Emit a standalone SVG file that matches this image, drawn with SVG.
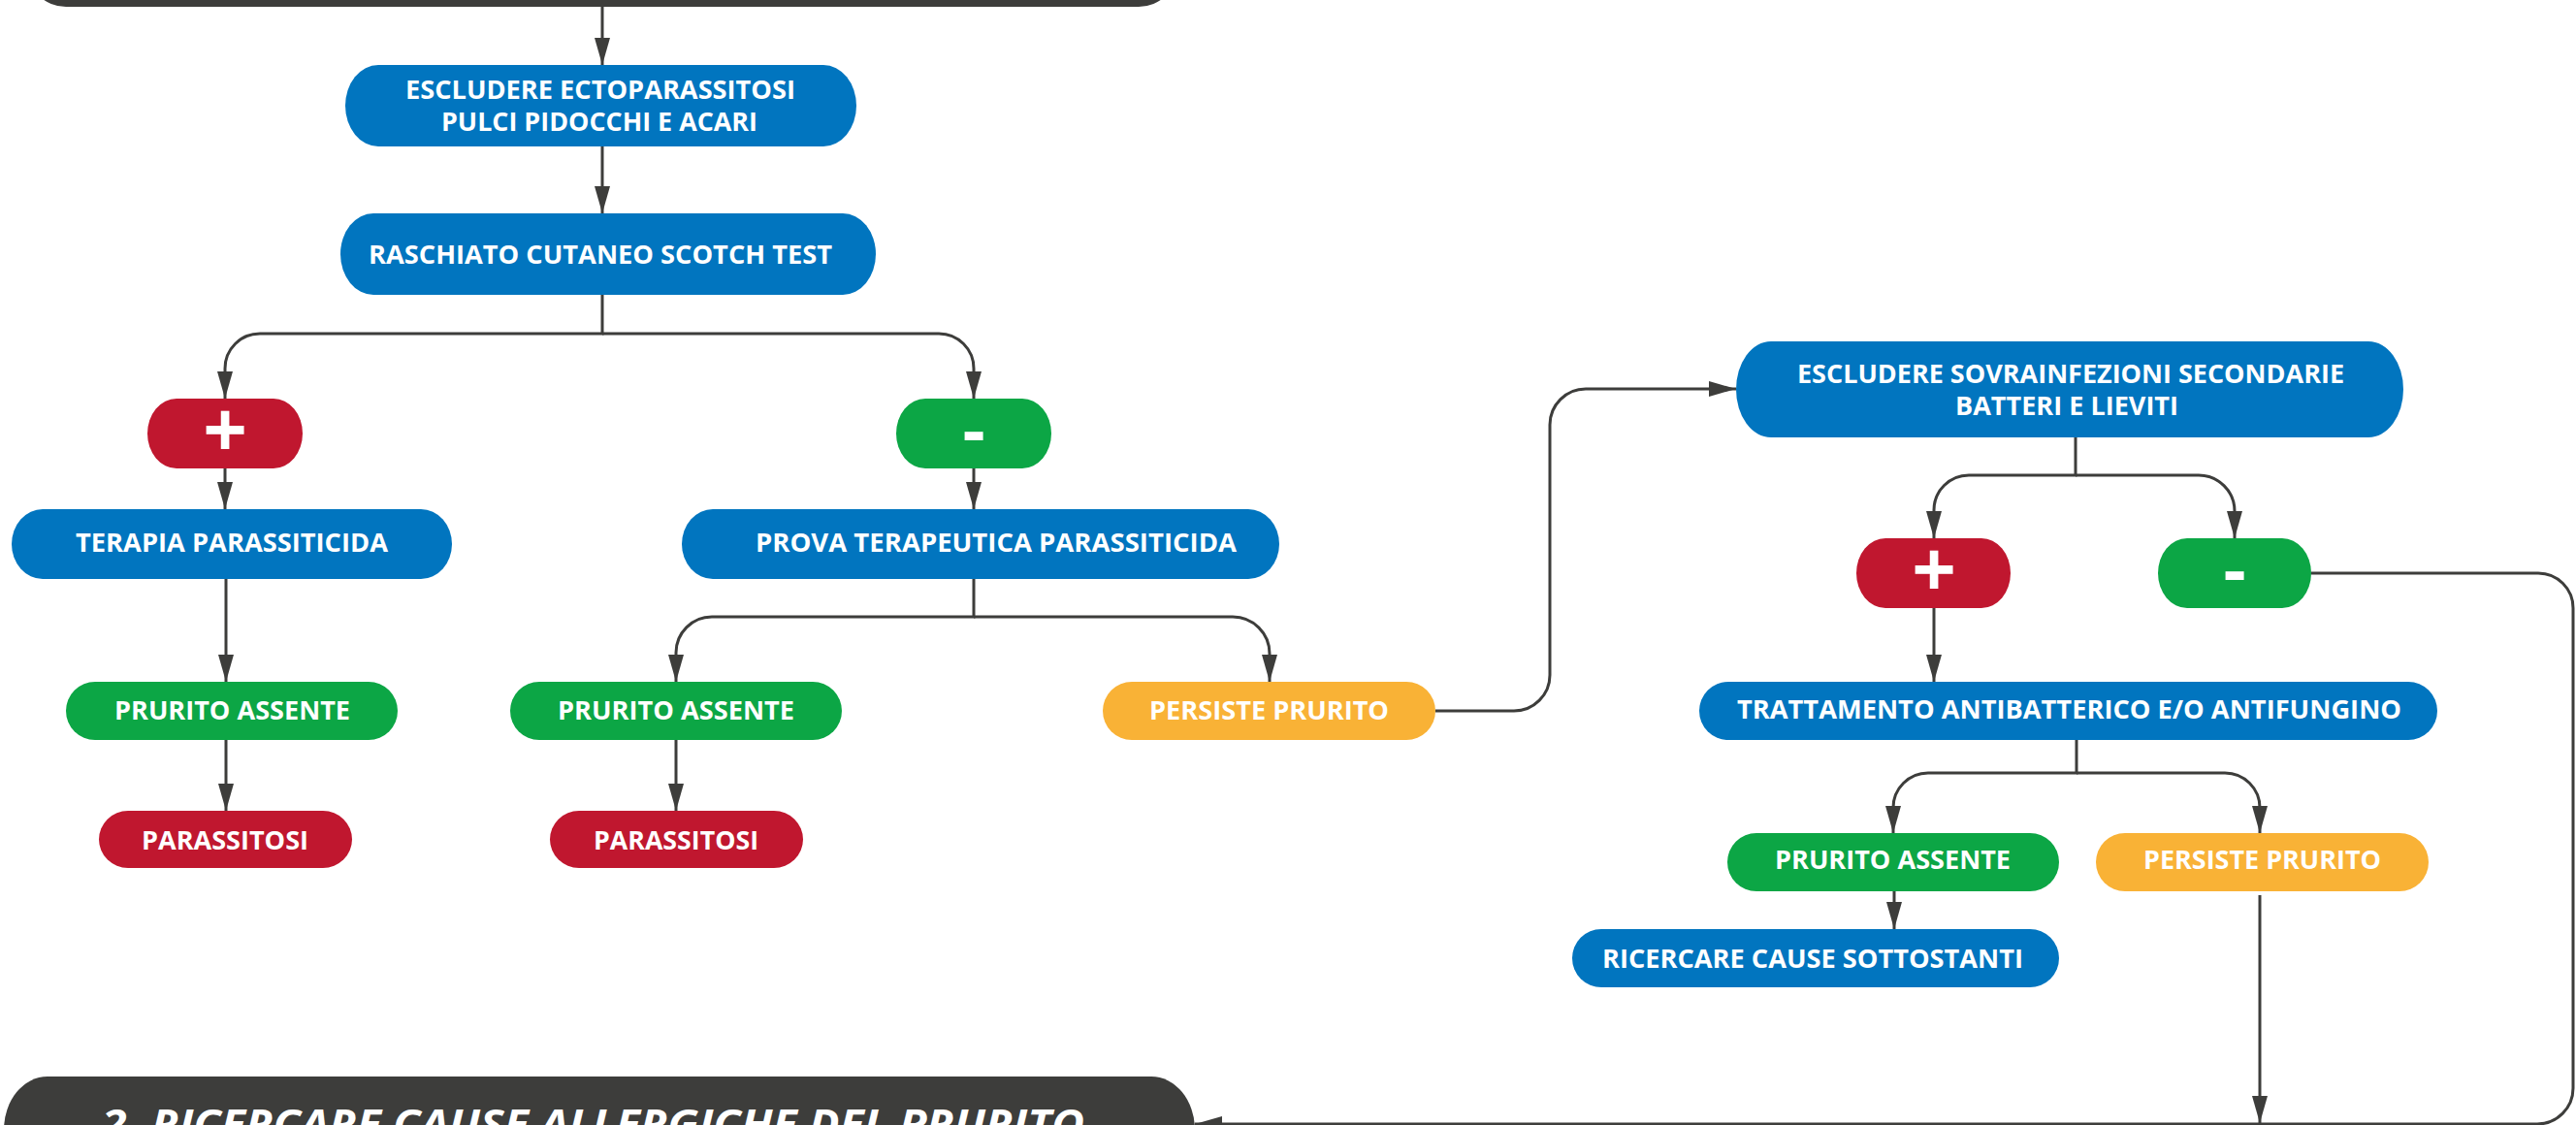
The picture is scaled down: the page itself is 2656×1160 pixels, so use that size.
<svg xmlns="http://www.w3.org/2000/svg" width="2656" height="1160" viewBox="0 0 2656 1160">
<style>
.blue{fill:#0175BF}
.red{fill:#C0172F}
.green{fill:#0CA645}
.orange{fill:#F9B236}
.dark{fill:#3D3D3B}
.t{font-family:"Open Sans","Liberation Sans",sans-serif;font-weight:700;font-size:27px;fill:#FFFFFF}
.sym{font-family:"Open Sans","Liberation Sans",sans-serif;font-weight:700;fill:#FFFFFF;text-anchor:middle}
.title{font-family:"Open Sans","Liberation Sans",sans-serif;font-weight:700;font-style:italic;font-size:41px;fill:#FFFFFF}
.c{fill:none;stroke:#3D3D3B;stroke-width:3}
.a{marker-end:url(#arr)}
</style>
<defs>
<marker id="arr" markerUnits="userSpaceOnUse" markerWidth="28" markerHeight="16" refX="28" refY="8" orient="auto">
<path d="M0,0 L28,8 L0,16 Z" fill="#3D3D3B"/>
</marker>
</defs>

<g id="connectors">
<path class="c a" d="M621 7 V67"/>
<path class="c a" d="M621 151 V220"/>
<path class="c a" d="M621 304 V344 H268 A36 36 0 0 0 232 380 V411"/>
<path class="c a" d="M621 344 H968 A36 36 0 0 1 1004 380 V411"/>
<path class="c a" d="M232 483 V525"/>
<path class="c a" d="M1004 483 V525"/>
<path class="c a" d="M233 597 V703"/>
<path class="c a" d="M233 763 V836"/>
<path class="c a" d="M1004 597 V636 H734 A37 37 0 0 0 697 673 V703"/>
<path class="c a" d="M1004 636 H1271 A38 38 0 0 1 1309 674 V703"/>
<path class="c a" d="M697 763 V836"/>
<path class="c a" d="M1480 733 H1561 A37 37 0 0 0 1598 696 V438 A37 37 0 0 1 1635 401 H1790"/>
<path class="c a" d="M2140 451 V490 H2030 A36 36 0 0 0 1994 526 V555"/>
<path class="c a" d="M2140 490 H2267 A37 37 0 0 1 2304 527 V555"/>
<path class="c a" d="M1994 627 V703"/>
<path class="c a" d="M2141 763 V797 H1988 A36 36 0 0 0 1952 833 V859"/>
<path class="c a" d="M2141 797 H2294 A36 36 0 0 1 2330 833 V859"/>
<path class="c a" d="M1953 919 V958"/>
<path class="c a" d="M2330 923 V1158"/>
<path class="c a" d="M2383 591 H2617 A36 36 0 0 1 2653 627 V1122 A37 37 0 0 1 2616 1159 H1232"/>
</g>

<g id="node-top">
<rect class="dark" x="28" y="-100" width="1186" height="107" rx="40" ry="40"/>
</g>

<g id="node-escludere-ecto">
<rect class="blue" x="356" y="67" width="527" height="84" rx="34" ry="42"/>
<text class="t" x="418" y="102" textLength="402" lengthAdjust="spacingAndGlyphs">ESCLUDERE ECTOPARASSITOSI</text>
<text class="t" x="455" y="135" textLength="326" lengthAdjust="spacingAndGlyphs">PULCI PIDOCCHI E ACARI</text>
</g>

<g id="node-raschiato">
<rect class="blue" x="351" y="220" width="552" height="84" rx="34" ry="42"/>
<text class="t" x="380" y="272" textLength="478" lengthAdjust="spacingAndGlyphs">RASCHIATO CUTANEO SCOTCH TEST</text>
</g>

<g id="node-plus-1">
<rect class="red" x="152" y="411" width="160" height="72" rx="30" ry="36"/>
<text class="sym" x="232" y="472" font-size="80">+</text>
</g>

<g id="node-minus-1">
<rect class="green" x="924" y="411" width="160" height="72" rx="30" ry="36"/>
<text class="sym" x="1004" y="469" font-size="72">-</text>
</g>

<g id="node-terapia">
<rect class="blue" x="12" y="525" width="454" height="72" rx="32" ry="36"/>
<text class="t" x="78" y="569" textLength="322" lengthAdjust="spacingAndGlyphs">TERAPIA PARASSITICIDA</text>
</g>

<g id="node-prova">
<rect class="blue" x="703" y="525" width="616" height="72" rx="32" ry="36"/>
<text class="t" x="779" y="569" textLength="496" lengthAdjust="spacingAndGlyphs">PROVA TERAPEUTICA PARASSITICIDA</text>
</g>

<g id="node-prurito-assente-1">
<rect class="green" x="68" y="703" width="342" height="60" rx="30" ry="30"/>
<text class="t" x="118" y="742" textLength="243" lengthAdjust="spacingAndGlyphs">PRURITO ASSENTE</text>
</g>

<g id="node-prurito-assente-2">
<rect class="green" x="526" y="703" width="342" height="60" rx="30" ry="30"/>
<text class="t" x="575" y="742" textLength="244" lengthAdjust="spacingAndGlyphs">PRURITO ASSENTE</text>
</g>

<g id="node-persiste-1">
<rect class="orange" x="1137" y="703" width="343" height="60" rx="30" ry="30"/>
<text class="t" x="1185" y="742" textLength="247" lengthAdjust="spacingAndGlyphs">PERSISTE PRURITO</text>
</g>

<g id="node-parassitosi-1">
<rect class="red" x="102" y="836" width="261" height="59" rx="30" ry="29.5"/>
<text class="t" x="146" y="876" textLength="172" lengthAdjust="spacingAndGlyphs">PARASSITOSI</text>
</g>

<g id="node-parassitosi-2">
<rect class="red" x="567" y="836" width="261" height="59" rx="30" ry="29.5"/>
<text class="t" x="612" y="876" textLength="170" lengthAdjust="spacingAndGlyphs">PARASSITOSI</text>
</g>

<g id="node-escludere-sovra">
<rect class="blue" x="1790" y="352" width="688" height="99" rx="36" ry="49.5"/>
<text class="t" x="1853" y="395" textLength="564" lengthAdjust="spacingAndGlyphs">ESCLUDERE SOVRAINFEZIONI SECONDARIE</text>
<text class="t" x="2016" y="428" textLength="230" lengthAdjust="spacingAndGlyphs">BATTERI E LIEVITI</text>
</g>

<g id="node-plus-2">
<rect class="red" x="1914" y="555" width="159" height="72" rx="30" ry="36"/>
<text class="sym" x="1994" y="616" font-size="80">+</text>
</g>

<g id="node-minus-2">
<rect class="green" x="2225" y="555" width="158" height="72" rx="30" ry="36"/>
<text class="sym" x="2304" y="613" font-size="72">-</text>
</g>

<g id="node-trattamento">
<rect class="blue" x="1752" y="703" width="761" height="60" rx="30" ry="30"/>
<text class="t" x="1791" y="741" textLength="685" lengthAdjust="spacingAndGlyphs">TRATTAMENTO ANTIBATTERICO E/O ANTIFUNGINO</text>
</g>

<g id="node-prurito-assente-3">
<rect class="green" x="1781" y="859" width="342" height="60" rx="30" ry="30"/>
<text class="t" x="1830" y="896" textLength="243" lengthAdjust="spacingAndGlyphs">PRURITO ASSENTE</text>
</g>

<g id="node-persiste-2">
<rect class="orange" x="2161" y="859" width="343" height="60" rx="30" ry="30"/>
<text class="t" x="2210" y="896" textLength="245" lengthAdjust="spacingAndGlyphs">PERSISTE PRURITO</text>
</g>

<g id="node-ricercare">
<rect class="blue" x="1621" y="958" width="502" height="60" rx="30" ry="30"/>
<text class="t" x="1652" y="998" textLength="434" lengthAdjust="spacingAndGlyphs">RICERCARE CAUSE SOTTOSTANTI</text>
</g>

<g id="node-bottom">
<rect class="dark" x="4" y="1110" width="1228" height="130" rx="45" ry="55"/>
<text class="title" x="105" y="1174" textLength="1013" lengthAdjust="spacingAndGlyphs">2. RICERCARE CAUSE ALLERGICHE DEL PRURITO</text>
</g>
</svg>
